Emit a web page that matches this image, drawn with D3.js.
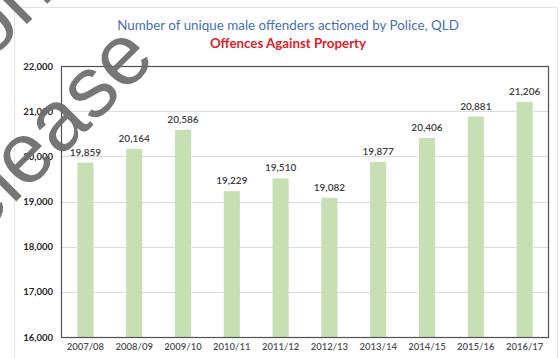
<!DOCTYPE html>
<html>
<head>
<meta charset="utf-8">
<script src="https://cdn.jsdelivr.net/npm/d3@7/dist/d3.min.js"></script>
<style>
  html, body { margin: 0; padding: 0; background: #fff; }
  svg { display: block; font-family: Lato, "Open Sans", sans-serif; }
</style>
</head>
<body>
<svg id="chart" width="560" height="358"></svg>
<script>
// Unique male offenders actioned by Police, QLD — Offences Against Property
const years = ["2007/08", "2008/09", "2009/10", "2010/11", "2011/12",
               "2012/13", "2013/14", "2014/15", "2015/16", "2016/17"];
const offenders = [19859, 20164, 20586, 19229, 19510, 19082, 19877, 20406, 20881, 21206];
const yTicks = [16000, 17000, 18000, 19000, 20000, 21000, 22000];
const titleText = "Number of unique male offenders actioned by Police, QLD";
const subtitleText = "Offences Against Property";
const stampLines = ["Right to Information", "release"];

const W = 560, H = 358;
const plot = { left: 61, right: 549, top: 66, bottom: 337 };
const fmt = d3.format(",");

const svg = d3.select("#chart");

// chart area outline
svg.append("rect")
  .attr("x", 14.5).attr("y", 7.5)
  .attr("width", 543).attr("height", 360)
  .attr("fill", "none").attr("stroke", "#e3e3e3");

const x = d3.scaleBand()
  .domain(years)
  .range([plot.left, plot.right])
  .paddingInner(0.67)
  .paddingOuter(0.335);

const y = d3.scaleLinear()
  .domain([16000, 22000])
  .range([plot.bottom, plot.top]);

// gridlines
svg.append("g")
  .selectAll("line")
  .data(yTicks)
  .join("line")
  .attr("x1", plot.left).attr("x2", plot.right)
  .attr("y1", d => Math.round(y(d)) + 0.5)
  .attr("y2", d => Math.round(y(d)) + 0.5)
  .attr("stroke", "#dcdcdc").attr("stroke-width", 1);

// bars
svg.append("g")
  .selectAll("rect")
  .data(offenders)
  .join("rect")
  .attr("x", (d, i) => x(years[i]))
  .attr("width", x.bandwidth())
  .attr("y", d => y(d))
  .attr("height", d => y(16000) - y(d))
  .attr("fill", "#c6e0b4");

// value labels
svg.append("g")
  .selectAll("text")
  .data(offenders)
  .join("text")
  .attr("x", (d, i) => x(years[i]) + x.bandwidth() / 2)
  .attr("y", d => y(d) - 7)
  .attr("text-anchor", "middle")
  .attr("font-size", 10)
  .attr("font-weight", 600)
  .attr("fill", "#404040")
  .text(d => fmt(d));

// plot frame
svg.append("rect")
  .attr("x", plot.left + 0.5).attr("y", plot.top + 0.5)
  .attr("width", plot.right - plot.left - 1)
  .attr("height", plot.bottom - plot.top)
  .attr("fill", "none")
  .attr("stroke", "#505050").attr("stroke-width", 1.2);

// y axis
const yAxis = svg.append("g")
  .attr("transform", `translate(${plot.left},0)`)
  .call(d3.axisLeft(y).tickValues(yTicks).tickFormat(fmt).tickSize(0).tickPadding(8));
yAxis.select(".domain").remove();
yAxis.selectAll("text")
  .attr("font-family", "Lato, sans-serif")
  .attr("font-size", 9.5)
  .attr("font-weight", 700)
  .attr("fill", "#262626");

// x axis
const xAxis = svg.append("g")
  .attr("transform", `translate(0,${plot.bottom})`)
  .call(d3.axisBottom(x).tickSize(0).tickPadding(6));
xAxis.select(".domain").remove();
xAxis.selectAll("text")
  .attr("font-family", "Lato, sans-serif")
  .attr("font-size", 9.5)
  .attr("font-weight", 600)
  .attr("fill", "#505050");

// titles
svg.append("text")
  .attr("x", 288).attr("y", 30)
  .attr("text-anchor", "middle")
  .attr("font-size", 13.4)
  .attr("fill", "#4a6fb5")
  .text(titleText);

svg.append("text")
  .attr("x", 288).attr("y", 48)
  .attr("text-anchor", "middle")
  .attr("font-size", 13.3)
  .attr("font-weight", 700)
  .attr("fill", "#e0202a")
  .text(subtitleText);

// diagonal release stamp
const stamp = svg.append("g")
  .attr("transform", "rotate(-45)")
  .attr("fill", "#6a6a6a")
  .attr("fill-opacity", 0.92)
  .attr("font-family", "'Liberation Sans', Arial, sans-serif")
  .attr("font-size", 86);
stamp.selectAll("text")
  .data(stampLines)
  .join("text")
  .attr("x", (d, i) => i === 0 ? 44 : 69)
  .attr("y", (d, i) => i === 0 ? 36 : 154)
  .attr("text-anchor", "end")
  .text(d => d);
</script>
</body>
</html>
